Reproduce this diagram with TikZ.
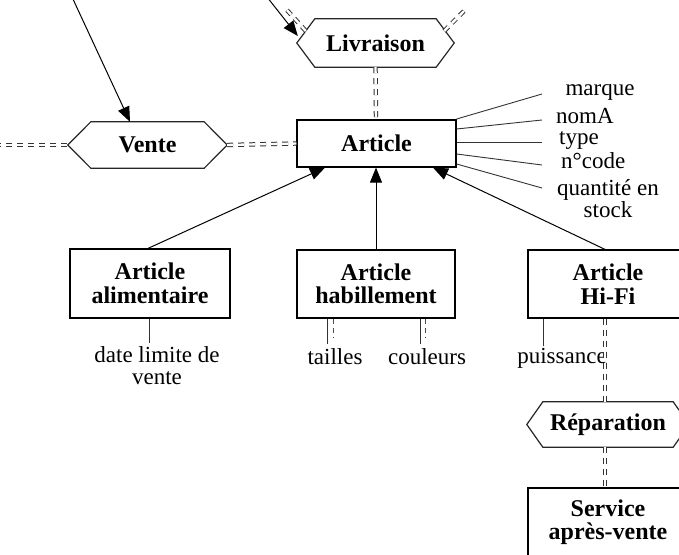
\documentclass[tikz,border=0pt]{standalone}
\usepackage{fontspec}
\setmainfont{Liberation Serif}
\usetikzlibrary{arrows.meta}

% hexagonal outline around a plain node (relationships)
\newcommand{\hexa}[2]{%
  \draw[hexline] (#1.west) -- ([xshift=#2]#1.north west) -- ([xshift=-#2]#1.north east)
    -- (#1.east) -- ([xshift=-#2]#1.south east) -- ([xshift=#2]#1.south west) -- cycle;}

\tikzset{
  entity/.style={draw, line width=1.2pt, font=\fontsize{24}{23.5}\selectfont\bfseries,
    align=center, inner sep=0pt},
  relation/.style={inner sep=0pt, font=\fontsize{24}{23.5}\selectfont\bfseries},
  hexline/.style={line width=1.2pt, draw=black!85},
  attrlabel/.style={inner sep=0pt, font=\fontsize{23}{22}\selectfont, align=center},
  attr/.style={line width=0.9pt, draw=black!80},
  isa/.style={line width=1pt, -{Triangle[length=15pt,width=12pt]}},
  pointer/.style={line width=1pt, -{Triangle[length=15pt,width=12pt]}},
  dbl/.style={draw=black!80, line width=1pt, double=white, double distance=2.4pt,
    dash pattern=on 6pt off 5pt},
  dashthin/.style={draw=black!70, line width=0.8pt, dash pattern=on 5pt off 4pt},
}

\begin{document}
\begin{tikzpicture}[x=1pt, y=-1pt]
\useasboundingbox (0,0) rectangle (679,554);
\clip (0,0) rectangle (679,554);

% relationships
\node[relation, minimum width=157pt, minimum height=48pt] (livraison) at (375.5,43) {Livraison};
\hexa{livraison}{18pt}
\node[relation, minimum width=159pt, minimum height=46pt] (vente) at (147.5,145) {Vente};
\hexa{vente}{23pt}
\node[relation, minimum width=162pt, minimum height=45pt] (reparation) at (608,424.5) {Réparation};
\hexa{reparation}{16pt}

% entities
\node[entity, minimum width=159pt, minimum height=47pt] (article) at (376.5,143.5) {Article};
\node[entity, minimum width=160pt, minimum height=69pt] (alim) at (150,283.5) {Article\\alimentaire};
\node[entity, minimum width=158pt, minimum height=68pt] (habil) at (376,284) {Article\\habillement};
\node[entity, minimum width=160pt, minimum height=68pt] (hifi) at (608,284) {Article\\Hi-Fi};
\node[entity, minimum width=160pt, minimum height=68pt] (sav) at (608,522) {Service\\après-vente};

% attribute labels
\node[attrlabel] (marque) at (600,92) {marque};
\node[attrlabel, anchor=west] (nomA) at (556,116) {nomA};
\node[attrlabel, anchor=west] (type) at (559,141) {type};
\node[attrlabel, anchor=west] (ncode) at (561,161) {n°code};
\node[attrlabel] (qte) at (608,199) {quantité en\\stock};
\node[attrlabel] (datelim) at (157,366) {date limite de\\vente};
\node[attrlabel] (tailles) at (335,357) {tailles};
\node[attrlabel] (couleurs) at (427,357) {couleurs};
\node[attrlabel] (puissance) at (562,358) {puissance};

% free ends of connectors
\coordinate (pA) at (72,-3);
\coordinate (pB) at (267,-3);
\coordinate (vleft) at (-5,145);
\coordinate (stubL) at (286,9);
\coordinate (stubR) at (467,8);
\coordinate (mA) at (542,94);
\coordinate (nA) at (542,120);
\coordinate (tA) at (542,142);
\coordinate (cA) at (542,165);
\coordinate (qA) at (542,188);
\coordinate (dA) at (149,343);
\coordinate (taA) at (327,344);
\coordinate (taB) at (333,338);
\coordinate (coA) at (420,344);
\coordinate (coB) at (425,337);
\coordinate (puA) at (543,346);

% pointers from above
\draw[pointer] (pA) -- ([xshift=-17.5pt]vente.north);
\draw[pointer] (pB) -- ([shift={(1pt,7pt)}]livraison.west);

% participation links (double dashed)
\draw[dbl] (vleft) -- (vente.west);
\draw[dbl] (vente.east) -- (article.west);
\draw[dbl] (livraison.south) -- ([xshift=-0.5pt]article.north);
\draw[dbl] ([shift={(9pt,12pt)}]livraison.west) -- (stubL);
\draw[dbl] ([shift={(-10pt,12pt)}]livraison.east) -- (stubR);
\draw[dbl] ([xshift=-3pt]hifi.south) -- ([xshift=-3pt]reparation.north);
\draw[dbl] ([xshift=-3pt]reparation.south) -- ([xshift=-3pt]sav.north);

% specialisation arrows
\draw[isa] ([xshift=-2pt]alim.north) -- ([xshift=-51.5pt]article.south);
\draw[isa] (habil.north) -- ([xshift=-0.5pt]article.south);
\draw[isa] ([xshift=-3pt]hifi.north) -- ([xshift=56.5pt]article.south);

% attributes of Article
\draw[attr] ([yshift=24.5pt]article.east) -- (mA);
\draw[attr] ([yshift=14.5pt]article.east) -- (nA);
\draw[attr] ([yshift=1.5pt]article.east) -- (tA);
\draw[attr] ([yshift=-10.5pt]article.east) -- (cA);
\draw[attr] ([yshift=-20.5pt]article.east) -- (qA);

% attributes of the subtypes
\draw[attr] ([xshift=-1pt]alim.south) -- (dA);
\draw[attr] ([xshift=-49pt]habil.south) -- (taA);
\draw[dashthin] ([xshift=-43pt]habil.south) -- (taB);
\draw[attr] ([xshift=44pt]habil.south) -- (coA);
\draw[dashthin] ([xshift=49pt]habil.south) -- (coB);
\draw[attr] ([xshift=-65pt]hifi.south) -- (puA);
\end{tikzpicture}
\end{document}
